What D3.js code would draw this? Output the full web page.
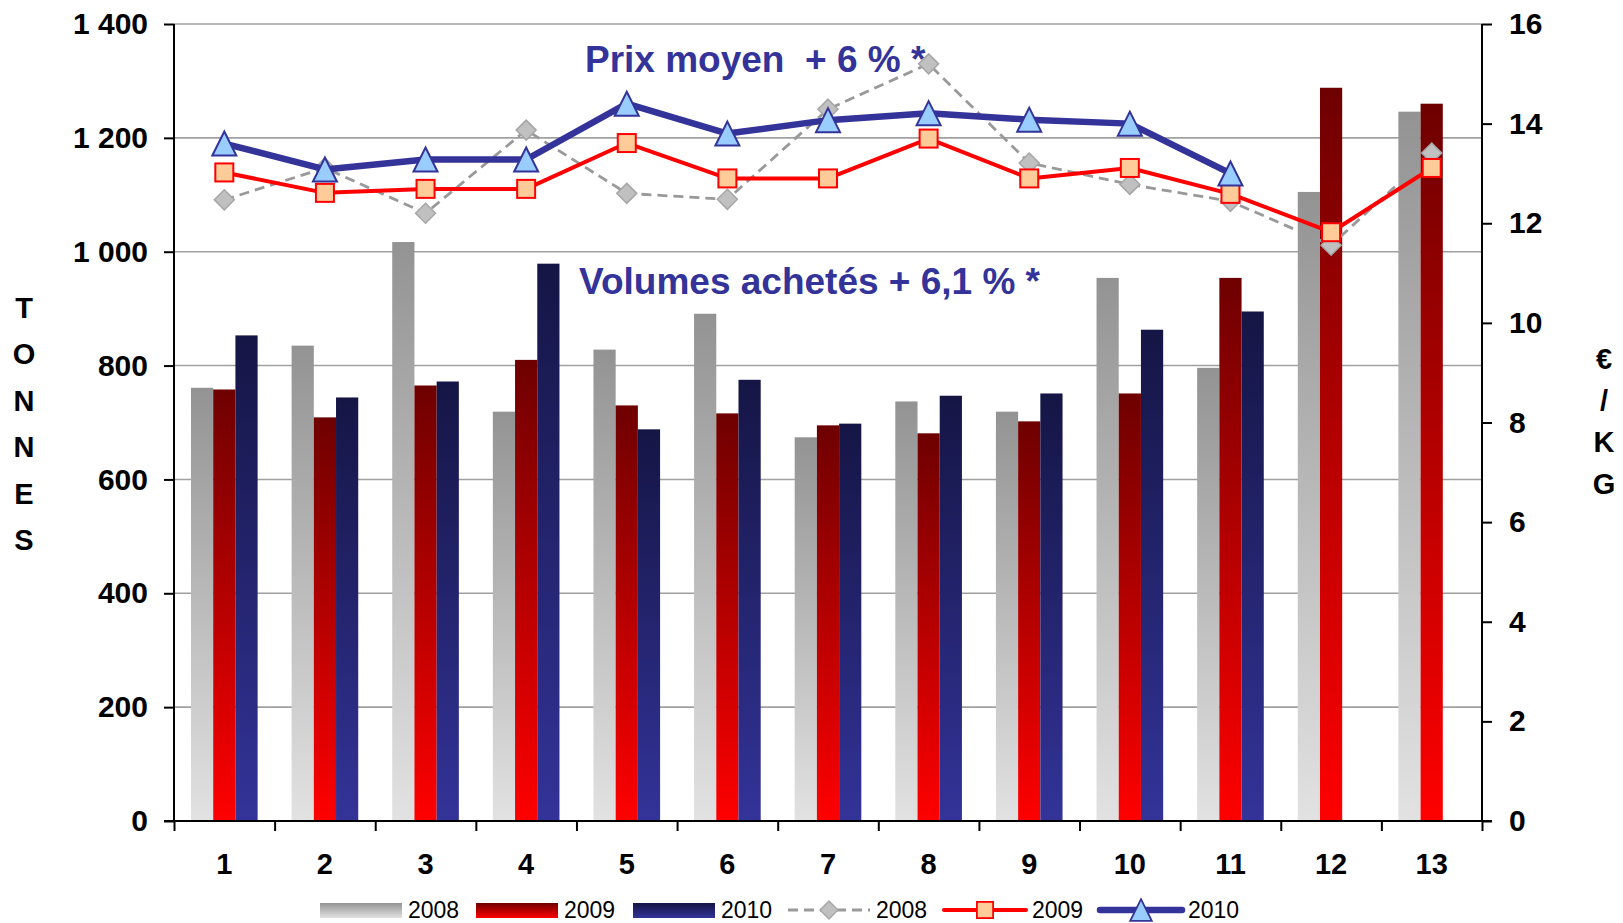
<!DOCTYPE html>
<html>
<head>
<meta charset="utf-8">
<script src="https://cdn.jsdelivr.net/npm/d3@7"></script>
<style>
	body { margin: 0; background: #fff; }
	text { font-family: Arial, "Liberation Sans", sans-serif; }
</style>
</head>
<body>
<div id="chart"></div>
<script>

// Data
let months = ["1", "2", "3", "4", "5", "6", "7", "8", "9", "10", "11", "12", "13"];
let years = ["2008", "2009", "2010"];

// volumes (tonnes), bars
let vol2008 = [761, 835, 1017, 719, 828, 891, 674, 737, 719, 954, 796, 1105, 1246];
let vol2009 = [758, 709, 765, 810, 730, 716, 695, 681, 702, 751, 954, 1288, 1260];
let vol2010 = [853, 744, 772, 979, 688, 775, 698, 747, 751, 863, 895, null, null];

// average price (EUR / kg), lines
let prix2008 = [12.47, 13.11, 12.20, 13.87, 12.60, 12.48, 14.29, 15.20, 13.21, 12.78, 12.44, 11.56, 13.41];
let prix2009 = [13.02, 12.61, 12.69, 12.69, 13.61, 12.90, 12.90, 13.70, 12.90, 13.11, 12.59, 11.82, 13.11];
let prix2010 = [13.60, 13.08, 13.28, 13.28, 14.40, 13.80, 14.07, 14.21, 14.08, 14.00, 13.00, null, null];

// axis ticks
let leftTicks = [0, 200, 400, 600, 800, 1000, 1200, 1400];
let leftTickLabels = ["0", "200", "400", "600", "800", "1 000", "1 200", "1 400"];
let rightTicks = [0, 2, 4, 6, 8, 10, 12, 14, 16];

let leftTitle = "TONNES";
let rightTitle = "€/KG";
let noteVolumes = "Volumes achetés + 6,1 % *";
let notePrix = "Prix moyen  + 6 % *";

let width = 1623, height = 923;
let margin = {top: 24, right: 141, bottom: 101, left: 174};
let plotW = width - margin.left - margin.right;

let svg = d3.select("#chart").append("svg")
	.attr("width", width)
	.attr("height", height);

let defs = svg.append("defs");
let barGrad = {
	"2008": ["#939393", "#e2e2e2"],
	"2009": ["#6e0000", "#ff0000"],
	"2010": ["#151545", "#333399"]
};
years.forEach(y => {
	let g = defs.append("linearGradient")
		.attr("id", "grad" + y)
		.attr("x1", 0).attr("y1", 0).attr("x2", 0).attr("y2", 1);
	g.append("stop").attr("offset", "0%").attr("stop-color", barGrad[y][0]);
	g.append("stop").attr("offset", "100%").attr("stop-color", barGrad[y][1]);
});

// scales
let x = d3.scaleBand()
	.domain(months)
	.range([margin.left, margin.left + plotW])
	.paddingInner(0).paddingOuter(0);

let xYear = d3.scaleBand()
	.domain(years)
	.range([0, x.bandwidth()])
	.paddingInner(0)
	.paddingOuter(0.765);

let yLeft = d3.scaleLinear().domain([0, 1400]).range([height - margin.bottom - 1, margin.top]);
let yRight = d3.scaleLinear().domain([0, 16]).range([height - margin.bottom - 1, margin.top]);

// gridlines
svg.append("g")
	.selectAll("line")
	.data(leftTicks.slice(1))
	.enter()
	.append("line")
	.attr("x1", margin.left)
	.attr("x2", margin.left + plotW)
	.attr("y1", d => yLeft(d))
	.attr("y2", d => yLeft(d))
	.attr("stroke", "#a0a0a0")
	.attr("stroke-width", 1.6);

// note texts (behind the marks)
svg.append("text")
	.attr("x", 585)
	.attr("y", 72)
	.attr("fill", "#333399")
	.attr("font-size", 37)
	.attr("font-weight", "bold")
	.style("white-space", "pre")
	.text(notePrix);

svg.append("text")
	.attr("x", 579)
	.attr("y", 294)
	.attr("fill", "#333399")
	.attr("font-size", 37)
	.attr("font-weight", "bold")
	.style("white-space", "pre")
	.text(noteVolumes);

// bars
let volumes = {"2008": vol2008, "2009": vol2009, "2010": vol2010};
let barData = [];
months.forEach((m, i) => {
	years.forEach(y => {
		if (volumes[y][i] != null) barData.push({month: m, year: y, value: volumes[y][i]});
	});
});

svg.append("g")
	.selectAll("rect")
	.data(barData)
	.enter()
	.append("rect")
	.attr("x", d => x(d.month) + xYear(d.year))
	.attr("width", xYear.bandwidth())
	.attr("y", d => yLeft(d.value))
	.attr("height", d => yLeft(0) - yLeft(d.value))
	.attr("fill", d => "url(#grad" + d.year + ")");

// lines
let cx = m => x(m) + x.bandwidth() / 2;

let diamond = "M0,-10L10,0L0,10L-10,0Z";
let triangle = "M0,-12L12,12L-12,12Z";

let lineStyles = [
	{year: "2008", values: prix2008, color: "#999999", width: 2.8, dash: "10,6"},
	{year: "2009", values: prix2009, color: "#ff0000", width: 4, dash: null},
	{year: "2010", values: prix2010, color: "#333399", width: 6.5, dash: null}
];

let line = d3.line()
	.defined(d => d.value != null)
	.x(d => cx(d.month))
	.y(d => yRight(d.value));

function drawMarker(g, year) {
	if (year == "2008") {
		g.append("path").attr("d", diamond)
			.attr("fill", "#c0c0c0").attr("stroke", "#a6a6a6").attr("stroke-width", 1.5);
	} else if (year == "2009") {
		g.append("rect").attr("x", -9).attr("y", -9).attr("width", 18).attr("height", 18)
			.attr("fill", "#ffcc99").attr("stroke", "#ff0000").attr("stroke-width", 2);
	} else {
		g.append("path").attr("d", triangle)
			.attr("fill", "#99ccff").attr("stroke", "#333399").attr("stroke-width", 2);
	}
}

lineStyles.forEach(s => {
	let pts = months.map((m, i) => ({month: m, value: s.values[i]}));
	svg.append("path")
		.datum(pts)
		.attr("d", line)
		.attr("fill", "none")
		.attr("stroke", s.color)
		.attr("stroke-width", s.width)
		.attr("stroke-linejoin", "round")
		.attr("stroke-dasharray", s.dash);

	pts.filter(d => d.value != null).forEach(d => {
		let g = svg.append("g")
			.attr("transform", "translate(" + cx(d.month) + "," + yRight(d.value) + ")");
		drawMarker(g, s.year);
	});
});

// axes
let axisLeft = d3.axisLeft(yLeft)
	.tickValues(leftTicks)
	.tickFormat((d, i) => leftTickLabels[i])
	.tickSize(10)
	.tickPadding(16);

let gLeft = svg.append("g")
	.attr("transform", "translate(" + margin.left + ",0)")
	.call(axisLeft);

let axisRight = d3.axisRight(yRight)
	.tickValues(rightTicks)
	.tickSize(10)
	.tickPadding(17);

let gRight = svg.append("g")
	.attr("transform", "translate(" + (margin.left + plotW) + ",0)")
	.call(axisRight);

let xEdges = d3.scaleLinear().domain([0, months.length]).range([margin.left, margin.left + plotW]);
let gBottom = svg.append("g")
	.attr("transform", "translate(0," + yLeft(0) + ")")
	.call(d3.axisBottom(xEdges).tickValues(d3.range(months.length + 1)).tickFormat("").tickSize(10));

[gLeft, gRight, gBottom].forEach(g => {
	g.select(".domain").attr("stroke", "#000").attr("stroke-width", 2);
	g.selectAll(".tick line").attr("stroke", "#000").attr("stroke-width", 2);
	g.selectAll(".tick text")
		.attr("fill", "#000")
		.attr("font-size", 30)
		.attr("font-weight", "bold")
		.attr("font-family", "Arial, 'Liberation Sans', sans-serif");
});
gLeft.select(".domain").attr("d", "M0," + yLeft(0) + "V" + margin.top);
gRight.select(".domain").attr("d", "M0," + yLeft(0) + "V" + margin.top);
gBottom.select(".domain").attr("d", "M" + (margin.left - 10) + ",0H" + (margin.left + plotW + 10));

// category labels
svg.append("g")
	.selectAll("text")
	.data(months)
	.enter()
	.append("text")
	.attr("x", d => cx(d))
	.attr("y", 874)
	.attr("text-anchor", "middle")
	.attr("font-size", 29)
	.attr("font-weight", "bold")
	.text(d => d);

// vertical axis titles, stacked letters
svg.append("g")
	.selectAll("text")
	.data(leftTitle.split(""))
	.enter()
	.append("text")
	.attr("x", 24)
	.attr("y", (d, i) => 318 + i * 46.4)
	.attr("text-anchor", "middle")
	.attr("font-size", 29)
	.attr("font-weight", "bold")
	.text(d => d);

svg.append("g")
	.selectAll("text")
	.data(rightTitle.split(""))
	.enter()
	.append("text")
	.attr("x", 1604)
	.attr("y", (d, i) => 369 + i * 41.7)
	.attr("text-anchor", "middle")
	.attr("font-size", 29)
	.attr("font-weight", "bold")
	.text(d => d);

// legend
let legend = svg.append("g").attr("transform", "translate(0,910)");
let legendItems = [
	{year: "2008", kind: "bar", x: 320},
	{year: "2009", kind: "bar", x: 476},
	{year: "2010", kind: "bar", x: 633},
	{year: "2008", kind: "line", x: 788},
	{year: "2009", kind: "line", x: 944},
	{year: "2010", kind: "line", x: 1100}
];

legendItems.forEach(d => {
	let g = legend.append("g").attr("transform", "translate(" + d.x + ",0)");
	if (d.kind == "bar") {
		g.append("rect")
			.attr("x", 0).attr("y", -7)
			.attr("width", 82).attr("height", 15)
			.attr("fill", "url(#grad" + d.year + ")");
	} else {
		let s = lineStyles.find(l => l.year == d.year);
		g.append("line")
			.attr("x1", 0).attr("x2", 82)
			.attr("stroke", s.color)
			.attr("stroke-width", s.width)
			.attr("stroke-linecap", d.year == "2008" ? "butt" : "round")
			.attr("stroke-dasharray", s.dash);
		let m = g.append("g").attr("transform", "translate(41,0) scale(0.9)");
		drawMarker(m, d.year);
	}
	g.append("text")
		.attr("x", 88)
		.attr("y", 8)
		.attr("font-size", 23)
		.text(d.year);
});

</script>
</body>
</html>
